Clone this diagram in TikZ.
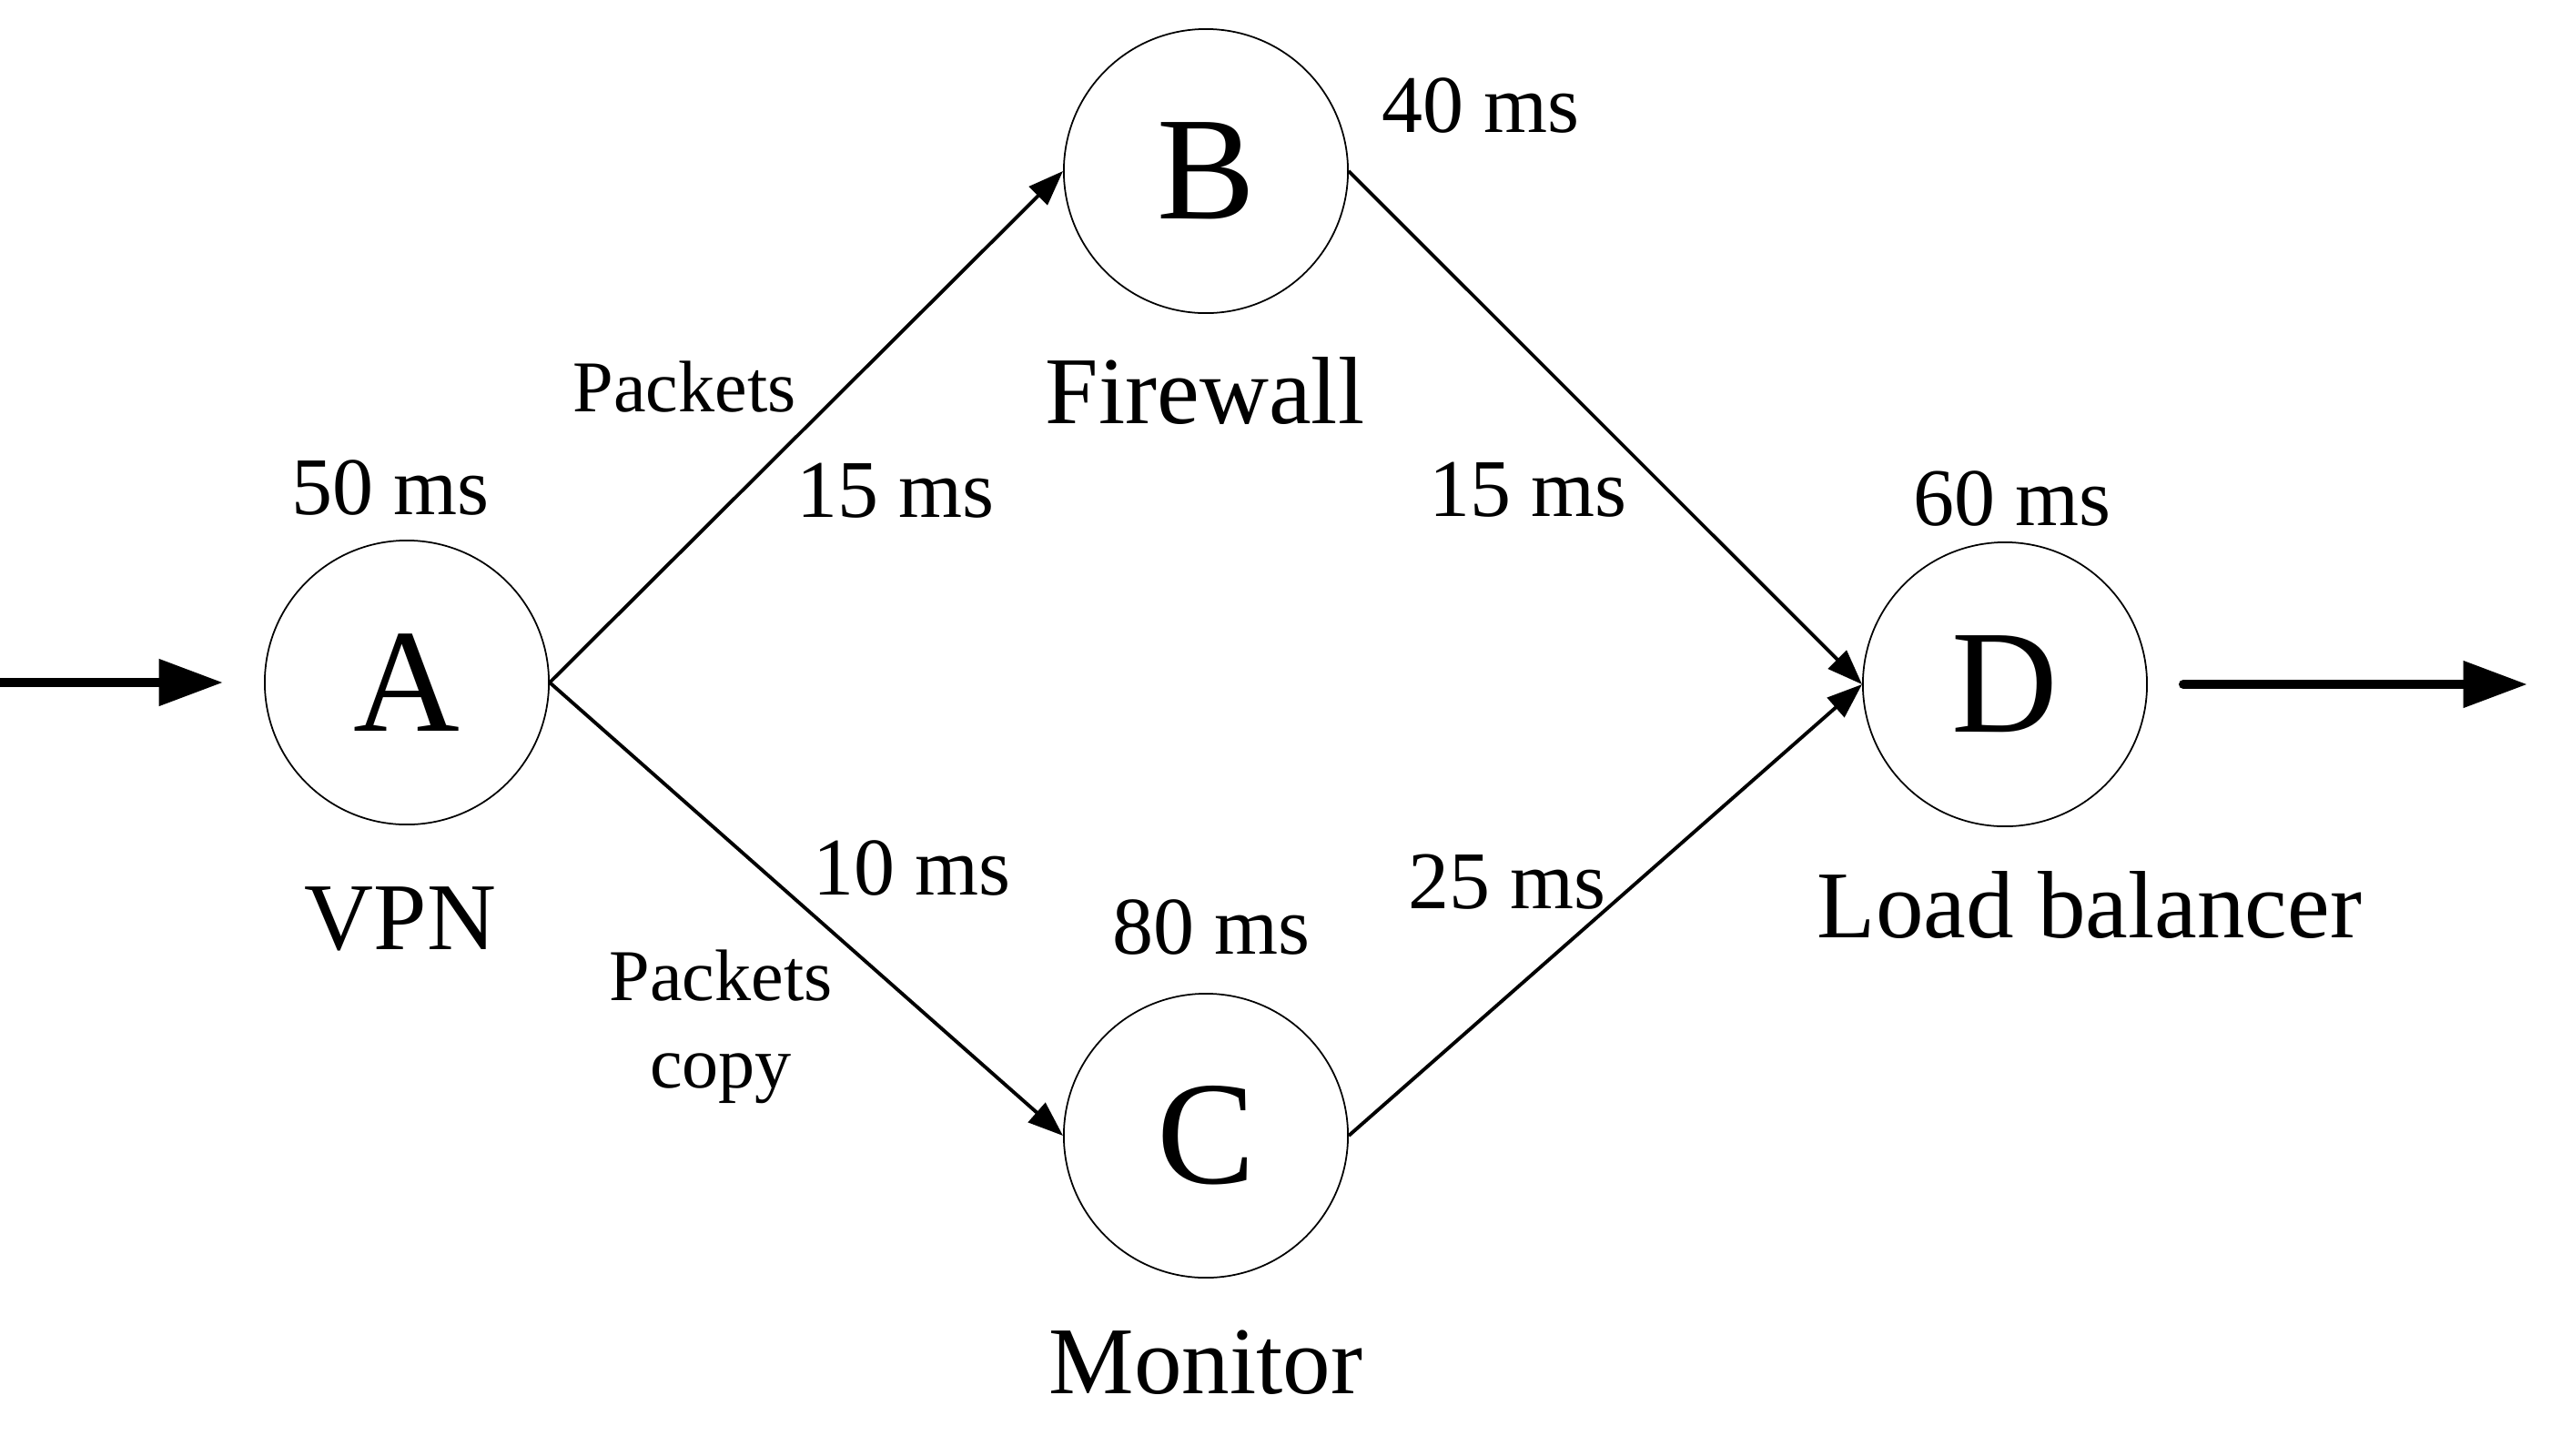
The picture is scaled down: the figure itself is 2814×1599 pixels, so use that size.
\documentclass[tikz,border=0pt]{standalone}
\usepackage{fontspec}
\setmainfont{Liberation Serif}
\usetikzlibrary{arrows.meta}

\begin{document}
\begin{tikzpicture}[x=0.01cm,y=-0.01cm]
   \tikzset{stage/.style={draw,circle,line width=0.5pt,minimum size=3.12cm,inner sep=0pt,font=\fontsize{46}{55}\selectfont},
            delay/.style={inner sep=0pt,anchor=base,font=\fontsize{25.6}{30}\selectfont},
            role/.style={inner sep=0pt,anchor=base,font=\fontsize{29.9}{36}\selectfont},
            flow/.style={inner sep=0pt,align=center,font=\fontsize{22.8}{27.4}\selectfont},
            link/.style={line width=1.1pt,-{Triangle[length=11pt,width=8pt]}},
            io/.style={line width=2.85pt,-{Triangle[length=20pt,width=14pt]}}};

\useasboundingbox (0,0) rectangle (2814,1599);

\node[stage] (A) at (447,750) {A};
\node[stage] (B) at (1325,188) {B};
\node[stage] (C) at (1325,1248) {C};
\node[stage] (D) at (2203,752) {D};

% processing times and roles
\node[delay] (dA) at (429,565) {50 ms};
\node[role] (nA) at (440,1043) {VPN};
\node[delay] (dB) at (1627,145) {40 ms};
\node[role] (nB) at (1324,465) {Firewall};
\node[delay] (dC) at (1331,1048) {80 ms};
\node[role] (nC) at (1325,1531) {Monitor};
\node[delay] (dD) at (2211,577) {60 ms};
\node[role] (nD) at (2296,1030) {Load balancer};

% links
\draw[link] (A.east) -- (B.west);
\draw[link] (A.east) -- (C.west);
\draw[link] (B.east) -- (D.west);
\draw[link] (C.east) -- (D.west);

\node[flow,anchor=base] (pAB) at (752,452) {Packets};
\node[delay] (tAB) at (984,568) {15 ms};
\node[delay] (tAC) at (1002,983) {10 ms};
\node[flow] (pAC) at (792,1128) {Packets\\copy};
\node[delay] (tBD) at (1679,567) {15 ms};
\node[delay] (tCD) at (1656,998) {25 ms};

% in and out
\coordinate (src) at (0,750);
\coordinate (sink) at (2777,752);
\draw[io] (src) -- ([xshift=-0.45cm]A.west);
\draw[io,line cap=round] ([xshift=0.39cm]D.east) -- (sink);

\end{tikzpicture}
\end{document}
